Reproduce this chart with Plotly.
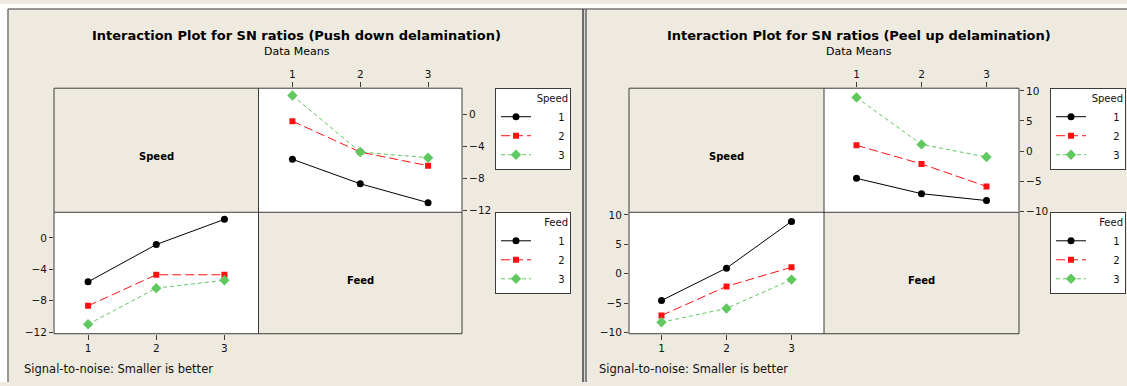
import plotly.graph_objects as go

# ---------------- data ----------------
levels = [1, 2, 3]
level_labels = ["1", "2", "3"]

# SN ratio means, rows = Speed level, cols = Feed level
push_speed1 = [-5.6, -8.65, -11.0]
push_speed2 = [-0.85, -4.7, -6.4]
push_speed3 = [2.35, -4.7, -5.4]

peel_speed1 = [-4.55, -7.1, -8.25]
peel_speed2 = [0.95, -2.15, -5.9]
peel_speed3 = [8.9, 1.1, -1.0]

push_ticks = [0, -4, -8, -12]
peel_ticks = [10, 5, 0, -5, -10]

titles = ["Interaction Plot for SN ratios (Push down delamination)",
          "Interaction Plot for SN ratios (Peel up delamination)"]
subtitle = "Data Means"
footnote = "Signal-to-noise: Smaller is better"
factor_names = ["Speed", "Feed"]

# ---------------- styles ----------------
W, H = 1127, 386
BEIGE = "#EEEAE0"
FRAME = "#3c3c3c"
FONT = "DejaVu Sans"
styles = [
    dict(color="#000000", dash="solid", symbol="circle", size=7),
    dict(color="#FF1010", dash="9px,4px", symbol="square", size=6),
    dict(color="#5FC85F", dash="4px,3px", symbol="diamond", size=8),
]


def px(x):
    return x / W


def py(y):
    return 1 - y / H


fig = go.Figure()

panels = [
    dict(data=[push_speed1, push_speed2, push_speed3], ticks=push_ticks,
         yrange=[-12.2, 3.25], left=54, mid=258.5, right=462, title_x=296.5,
         foot_x=22, leg_x=495, ax=("x", "y", "x2", "y2"), legs=("legend", "legend2")),
    dict(data=[peel_speed1, peel_speed2, peel_speed3], ticks=peel_ticks,
         yrange=[-10.2, 10.45], left=629, mid=824, right=1019, title_x=859,
         foot_x=597, leg_x=1050, ax=("x3", "y3", "x4", "y4"), legs=("legend3", "legend4")),
]

TOP, MIDY, BOT = 86, 212.7, 336.7
layout_axes = {}
shapes = []
annotations = []
legends = {}

pad_labels = ["\u00a0" * 7 + s for s in level_labels]


def note(text, x, y, size, xanchor="center", bold=False, color="#000"):
    return dict(text=("<b>" + text + "</b>") if bold else text,
                x=px(x), y=py(y), xref="paper", yref="paper", showarrow=False,
                xanchor=xanchor, yanchor="middle",
                font=dict(family=FONT, size=size, color=color))


for p_i, p in enumerate(panels):
    m = p["data"]
    xa_tr, ya_tr, xa_bl, ya_bl = p["ax"]
    # top-right: x = Feed, lines = Speed
    for s_i in range(3):
        st = styles[s_i]
        fig.add_trace(go.Scatter(
            x=levels, y=m[s_i], xaxis=xa_tr, yaxis=ya_tr, mode="lines+markers",
            name=pad_labels[s_i], legend=p["legs"][0],
            line=dict(color=st["color"], dash=st["dash"], width=1),
            marker=dict(symbol=st["symbol"], size=st["size"], color=st["color"])))
    # bottom-left: x = Speed, lines = Feed
    for f_i in range(3):
        st = styles[f_i]
        fig.add_trace(go.Scatter(
            x=levels, y=[m[s][f_i] for s in range(3)], xaxis=xa_bl, yaxis=ya_bl,
            mode="lines+markers", name=pad_labels[f_i], legend=p["legs"][1],
            line=dict(color=st["color"], dash=st["dash"], width=1),
            marker=dict(symbol=st["symbol"], size=st["size"], color=st["color"])))

    common_x = dict(range=[0.5, 3.5], tickvals=levels, ticktext=level_labels,
                    ticks="outside", ticklen=5, tickcolor=FRAME, showgrid=False,
                    zeroline=False, showline=False,
                    tickfont=dict(family=FONT, size=10.5, color="#111"))
    common_y = dict(range=p["yrange"], tickvals=p["ticks"],
                    ticks="outside", ticklen=4, tickcolor=FRAME, showgrid=False,
                    zeroline=False, showline=False,
                    tickfont=dict(family=FONT, size=10.5, color="#111"))
    k_tr = "" if xa_tr == "x" else xa_tr[1:]
    k_bl = xa_bl[1:]
    layout_axes["xaxis" + k_tr] = dict(common_x, domain=[px(p["mid"]), px(p["right"])],
                                       side="top", anchor=ya_tr)
    layout_axes["yaxis" + k_tr] = dict(common_y, domain=[py(TOP + 126.7), py(TOP)],
                                       side="right", anchor=xa_tr)
    layout_axes["xaxis" + k_bl] = dict(common_x, domain=[px(p["left"]), px(p["mid"])],
                                       side="bottom", anchor=ya_bl)
    layout_axes["yaxis" + k_bl] = dict(common_y, domain=[py(BOT), py(MIDY)],
                                       side="left", anchor=xa_bl)

    # grid frame
    shapes.append(dict(type="rect", xref="paper", yref="paper", layer="above",
                       x0=px(p["left"]), x1=px(p["right"]), y0=py(BOT), y1=py(TOP),
                       line=dict(color=FRAME, width=1)))
    shapes.append(dict(type="line", xref="paper", yref="paper", layer="above",
                       x0=px(p["mid"]), x1=px(p["mid"]), y0=py(BOT), y1=py(TOP),
                       line=dict(color=FRAME, width=1)))
    shapes.append(dict(type="line", xref="paper", yref="paper", layer="above",
                       x0=px(p["left"]), x1=px(p["right"]), y0=py(MIDY), y1=py(MIDY),
                       line=dict(color=FRAME, width=1)))

    # texts
    annotations.append(note(titles[p_i], p["title_x"], 32, 13, bold=True))
    annotations.append(note(subtitle, p["title_x"], 49, 11))
    annotations.append(note(factor_names[0], (p["left"] + p["mid"]) / 2, 156, 10, bold=True))
    annotations.append(note(factor_names[1], (p["mid"] + p["right"]) / 2, 282, 10, bold=True))
    annotations.append(note(footnote, p["foot_x"], 373, 11.5, xanchor="left", color="#111"))

    for j, ly in enumerate([TOP, MIDY]):
        legends[p["legs"][j]] = dict(
            x=px(p["leg_x"]), y=py(ly), xanchor="left", yanchor="top",
            bgcolor="white", bordercolor=FRAME, borderwidth=1,
            font=dict(family=FONT, size=10, color="#111"),
            title=dict(text=factor_names[j], side="top right",
                       font=dict(family=FONT, size=10, color="#111")),
            tracegroupgap=0, itemwidth=30)

# outer white margins and panel borders
shapes += [
    dict(type="rect", xref="paper", yref="paper", layer="below", x0=0, x1=1,
         y0=py(5), y1=1, fillcolor="white", line=dict(width=0)),
    dict(type="rect", xref="paper", yref="paper", layer="below", x0=0, x1=px(8),
         y0=0, y1=1, fillcolor="white", line=dict(width=0)),
    dict(type="rect", xref="paper", yref="paper", layer="below", x0=px(583), x1=px(586),
         y0=0, y1=py(5), fillcolor="#d8d8d8", line=dict(width=0)),
    dict(type="line", xref="paper", yref="paper", x0=px(8), x1=1, y0=py(5), y1=py(5),
         line=dict(color="#777", width=1.5)),
    dict(type="line", xref="paper", yref="paper", x0=px(8), x1=px(8), y0=0, y1=py(5),
         line=dict(color="#777", width=1.5)),
    dict(type="line", xref="paper", yref="paper", x0=px(583), x1=px(583), y0=0, y1=py(5),
         line=dict(color="#444", width=1.5)),
    dict(type="line", xref="paper", yref="paper", x0=px(586), x1=px(586), y0=0, y1=py(5),
         line=dict(color="#666", width=1.5)),
]

fig.update_layout(
    width=W, height=H, autosize=False,
    margin=dict(l=0, r=0, t=0, b=0),
    paper_bgcolor=BEIGE, plot_bgcolor="white",
    shapes=shapes, annotations=annotations,
    showlegend=True,
    **layout_axes, **legends,
)

fig.write_html("out.html",
               config={"displayModeBar": False},
               post_script="document.body.style.margin='0';document.body.style.padding='0';"
                           "document.body.style.overflow='hidden';")
